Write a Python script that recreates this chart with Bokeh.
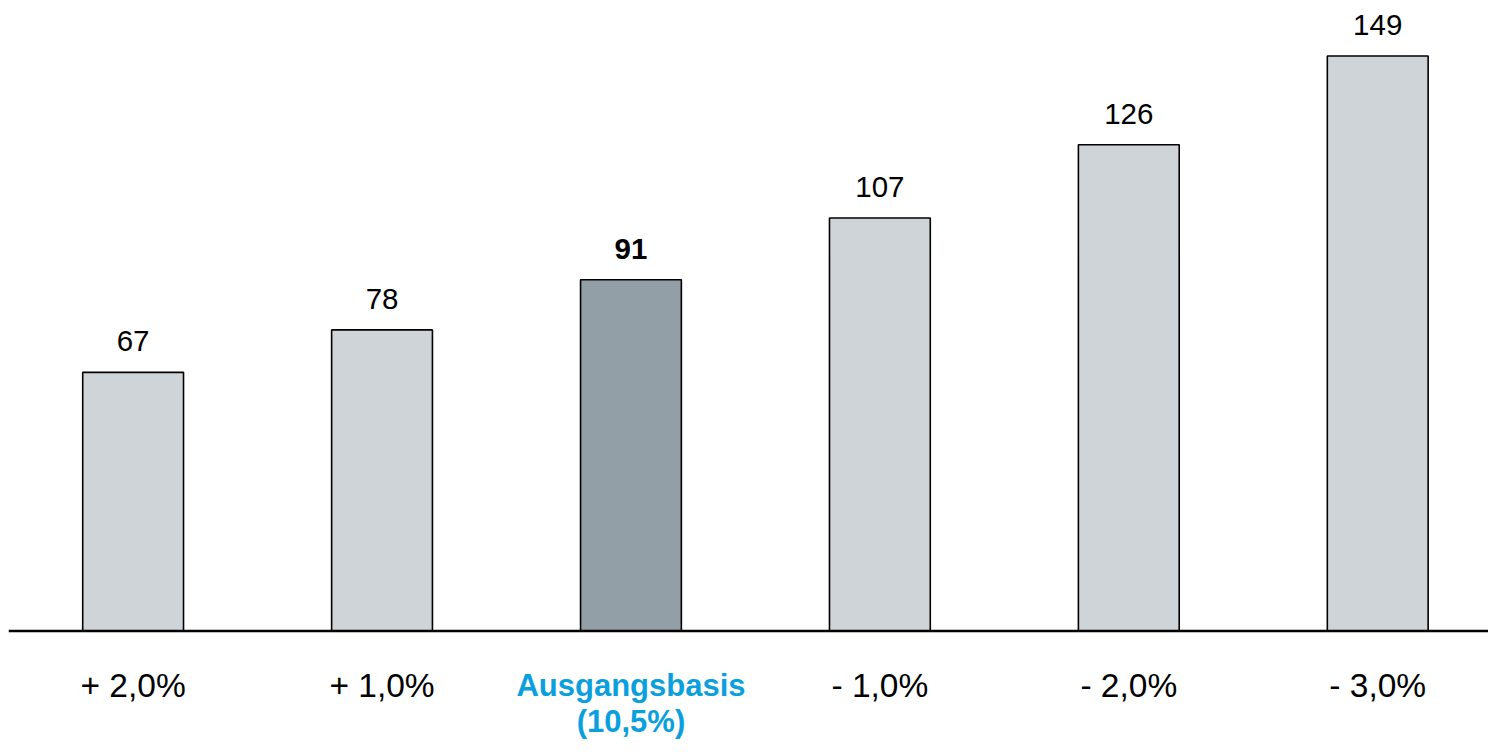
from bokeh.plotting import figure
from bokeh.models import ColumnDataSource, Range1d, Span
from bokeh.core.properties import value
from bokeh.embed import file_html
from bokeh.resources import INLINE

# ---- data ----
categories = ["+ 2,0%", "+ 1,0%", "Ausgangsbasis\n(10,5%)", "- 1,0%", "- 2,0%", "- 3,0%"]
values = [67, 78, 91, 107, 126, 149]
base_index = 2

# ---- styles ----
FONT = value("Liberation Sans")
LIGHT = "#CFD4D8"
DARK = "#929FA6"
BLUE = "#0AA0DD"

xs = list(range(len(categories)))
fills = [DARK if i == base_index else LIGHT for i in xs]
styles = ["bold" if i == base_index else "normal" for i in xs]

bars = ColumnDataSource(dict(x=xs, top=values, fill=fills,
                             label=[str(v) for v in values], style=styles))

lx, ly, ltxt, lcol, lsty, loff, lsize = [], [], [], [], [], [], []
for i, c in enumerate(categories):
    for j, line in enumerate(c.split("\n")):
        lx.append(i)
        ly.append(0)
        ltxt.append(line)
        lcol.append(BLUE if i == base_index else "#000000")
        lsty.append("bold" if i == base_index else "normal")
        lsize.append("31px" if i == base_index else "33.5px")
        loff.append(55 + 35.5 * j)
cats = ColumnDataSource(dict(x=lx, y=ly, text=ltxt, color=lcol, style=lsty,
                             off=loff, size=lsize))

p = figure(width=1488, height=740, output_backend="svg", toolbar_location=None,
           x_range=Range1d(-0.5006, 5.445), y_range=Range1d(-28.40, 163.37),
           min_border=0, min_border_left=8, outline_line_color=None)
p.axis.visible = False
p.grid.visible = False
p.background_fill_color = "white"
p.border_fill_color = "white"

p.vbar(x="x", top="top", bottom=0, width=0.405, source=bars,
       fill_color="fill", line_color="#000000", line_width=1.6)

p.add_layout(Span(location=0, dimension="width", line_color="#000000", line_width=2.5))

p.text(x="x", y="top", text="label", source=bars, text_font=FONT,
       text_font_size="29.5px", text_font_style="style", text_color="#000000",
       text_align="center", text_baseline="alphabetic", y_offset=-31)

p.text(x="x", y="y", text="text", source=cats, text_font=FONT,
       text_font_size="size", text_font_style="style", text_color="color",
       text_align="center", text_baseline="alphabetic", y_offset="off")

open("out.html", "w").write(file_html(p, INLINE))
